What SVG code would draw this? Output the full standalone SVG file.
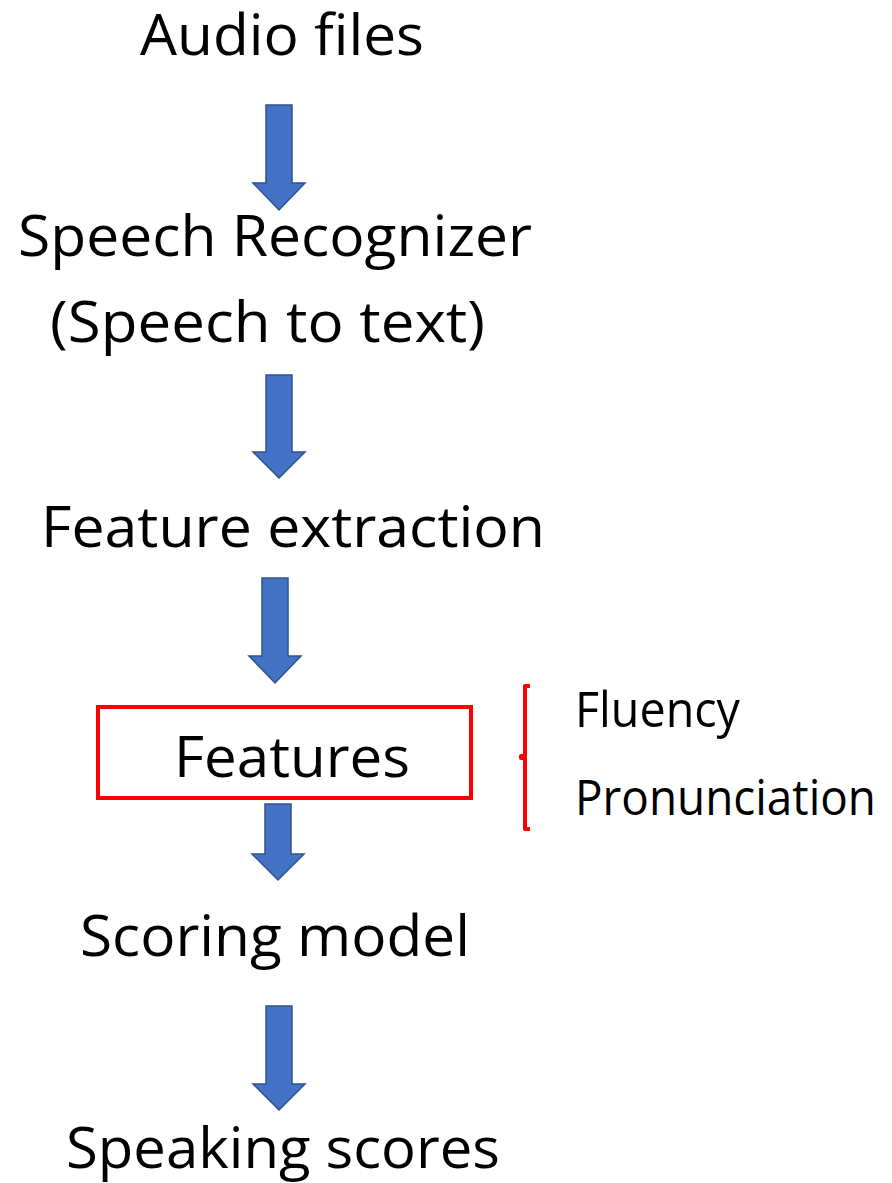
<svg xmlns="http://www.w3.org/2000/svg" width="892" height="1183" viewBox="0 0 892 1183">
  <style>
    .lbl { font-family: "Open Sans", "Noto Sans", "Liberation Sans", sans-serif; font-size: 57px; fill: #000; }
    .side { font-family: "Open Sans", "Noto Sans", "Liberation Sans", sans-serif; font-size: 50px; fill: #000; }
    .arrow { fill: #4472C4; stroke: #2F528F; stroke-width: 1.5; stroke-linejoin: miter; }
    .frame { fill: none; stroke: #FF0000; stroke-width: 4; }
  </style>
  <rect width="892" height="1183" fill="#fff"/>

  <!-- pipeline steps -->
  <g id="audio-files">
    <text class="lbl" x="140" y="55" textLength="284" lengthAdjust="spacingAndGlyphs">Audio files</text>
  </g>
  <g id="speech-recognizer">
    <text class="lbl" x="18" y="256" textLength="514" lengthAdjust="spacingAndGlyphs">Speech Recognizer</text>
    <text class="lbl" x="50" y="342" textLength="435" lengthAdjust="spacingAndGlyphs">(Speech to text)</text>
  </g>
  <g id="feature-extraction">
    <text class="lbl" x="41" y="547" textLength="504" lengthAdjust="spacingAndGlyphs">Feature extraction</text>
  </g>
  <g id="features">
    <rect class="frame" x="98" y="707" width="373" height="91"/>
    <text class="lbl" x="174" y="777" textLength="236" lengthAdjust="spacingAndGlyphs">Features</text>
  </g>
  <g id="feature-types">
    <path d="M530 686 H525 V756 H521 V758 H525 V829 H530" fill="none" stroke="#FF0000" stroke-width="4" stroke-linejoin="round"/>
    <text class="side" x="575" y="727" textLength="165" lengthAdjust="spacingAndGlyphs">Fluency</text>
    <text class="side" x="575" y="815" textLength="301" lengthAdjust="spacingAndGlyphs">Pronunciation</text>
  </g>
  <g id="scoring-model">
    <text class="lbl" x="80" y="956" textLength="390" lengthAdjust="spacingAndGlyphs">Scoring model</text>
  </g>
  <g id="speaking-scores">
    <text class="lbl" x="66" y="1168" textLength="434" lengthAdjust="spacingAndGlyphs">Speaking scores</text>
  </g>

  <!-- block arrows between steps -->
  <g id="connectors">
    <path class="arrow" d="M266 105 H292 V183 H305 L279 210 L253 183 H266 Z"/>
    <path class="arrow" d="M266 375 H292 V452 H305 L279 478 L253 452 H266 Z"/>
    <path class="arrow" d="M262 578 H288 V656 H301 L275 683 L249 656 H262 Z"/>
    <path class="arrow" d="M265 804 H291 V854 H304 L278 880 L252 854 H265 Z"/>
    <path class="arrow" d="M266 1006 H292 V1084 H305 L279 1110 L253 1084 H266 Z"/>
  </g>
</svg>
